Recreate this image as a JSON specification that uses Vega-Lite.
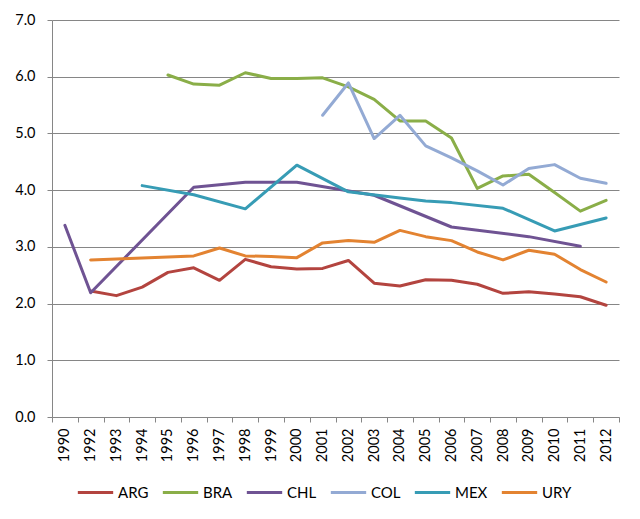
{
  "$schema": "https://vega.github.io/schema/vega-lite/v6.json",
  "autosize": {"type": "none"},
  "padding": {"left": 52, "top": 20, "right": 21, "bottom": 102},
  "width": 567,
  "height": 397,
  "background": "white",
  "config": {
    "font": "Lato",
    "view": {"stroke": null},
    "axis": {
      "labelFont": "Lato",
      "labelFontSize": 14.5,
      "labelColor": "#000000",
      "domainColor": "#868686",
      "tickColor": "#868686",
      "gridColor": "#868686",
      "tickSize": 5,
      "title": null
    }
  },
  "data": {
    "values": [
      {"year": "1992", "country": "ARG", "value": 2.22},
      {"year": "1993", "country": "ARG", "value": 2.14},
      {"year": "1994", "country": "ARG", "value": 2.29},
      {"year": "1995", "country": "ARG", "value": 2.55},
      {"year": "1996", "country": "ARG", "value": 2.63},
      {"year": "1997", "country": "ARG", "value": 2.41},
      {"year": "1998", "country": "ARG", "value": 2.78},
      {"year": "1999", "country": "ARG", "value": 2.65},
      {"year": "2000", "country": "ARG", "value": 2.61},
      {"year": "2001", "country": "ARG", "value": 2.62},
      {"year": "2002", "country": "ARG", "value": 2.76},
      {"year": "2003", "country": "ARG", "value": 2.36},
      {"year": "2004", "country": "ARG", "value": 2.31},
      {"year": "2005", "country": "ARG", "value": 2.42},
      {"year": "2006", "country": "ARG", "value": 2.41},
      {"year": "2007", "country": "ARG", "value": 2.34},
      {"year": "2008", "country": "ARG", "value": 2.18},
      {"year": "2009", "country": "ARG", "value": 2.21},
      {"year": "2010", "country": "ARG", "value": 2.17},
      {"year": "2011", "country": "ARG", "value": 2.12},
      {"year": "2012", "country": "ARG", "value": 1.97},

      {"year": "1995", "country": "BRA", "value": 6.03},
      {"year": "1996", "country": "BRA", "value": 5.87},
      {"year": "1997", "country": "BRA", "value": 5.85},
      {"year": "1998", "country": "BRA", "value": 6.07},
      {"year": "1999", "country": "BRA", "value": 5.97},
      {"year": "2000", "country": "BRA", "value": 5.97},
      {"year": "2001", "country": "BRA", "value": 5.98},
      {"year": "2002", "country": "BRA", "value": 5.82},
      {"year": "2003", "country": "BRA", "value": 5.6},
      {"year": "2004", "country": "BRA", "value": 5.22},
      {"year": "2005", "country": "BRA", "value": 5.22},
      {"year": "2006", "country": "BRA", "value": 4.92},
      {"year": "2007", "country": "BRA", "value": 4.03},
      {"year": "2008", "country": "BRA", "value": 4.25},
      {"year": "2009", "country": "BRA", "value": 4.28},
      {"year": "2010", "country": "BRA", "value": 3.96},
      {"year": "2011", "country": "BRA", "value": 3.63},
      {"year": "2012", "country": "BRA", "value": 3.82},

      {"year": "1990", "country": "CHL", "value": 3.38},
      {"year": "1992", "country": "CHL", "value": 2.19},
      {"year": "1996", "country": "CHL", "value": 4.05},
      {"year": "1998", "country": "CHL", "value": 4.14},
      {"year": "2000", "country": "CHL", "value": 4.14},
      {"year": "2003", "country": "CHL", "value": 3.91},
      {"year": "2006", "country": "CHL", "value": 3.35},
      {"year": "2009", "country": "CHL", "value": 3.18},
      {"year": "2011", "country": "CHL", "value": 3.01},

      {"year": "2001", "country": "COL", "value": 5.32},
      {"year": "2002", "country": "COL", "value": 5.89},
      {"year": "2003", "country": "COL", "value": 4.91},
      {"year": "2004", "country": "COL", "value": 5.32},
      {"year": "2005", "country": "COL", "value": 4.78},
      {"year": "2006", "country": "COL", "value": 4.57},
      {"year": "2007", "country": "COL", "value": 4.34},
      {"year": "2008", "country": "COL", "value": 4.09},
      {"year": "2009", "country": "COL", "value": 4.38},
      {"year": "2010", "country": "COL", "value": 4.45},
      {"year": "2011", "country": "COL", "value": 4.21},
      {"year": "2012", "country": "COL", "value": 4.12},

      {"year": "1994", "country": "MEX", "value": 4.08},
      {"year": "1996", "country": "MEX", "value": 3.92},
      {"year": "1998", "country": "MEX", "value": 3.67},
      {"year": "2000", "country": "MEX", "value": 4.44},
      {"year": "2002", "country": "MEX", "value": 3.97},
      {"year": "2004", "country": "MEX", "value": 3.86},
      {"year": "2005", "country": "MEX", "value": 3.81},
      {"year": "2006", "country": "MEX", "value": 3.78},
      {"year": "2008", "country": "MEX", "value": 3.68},
      {"year": "2010", "country": "MEX", "value": 3.28},
      {"year": "2012", "country": "MEX", "value": 3.51},

      {"year": "1992", "country": "URY", "value": 2.77},
      {"year": "1996", "country": "URY", "value": 2.84},
      {"year": "1997", "country": "URY", "value": 2.98},
      {"year": "1998", "country": "URY", "value": 2.84},
      {"year": "1999", "country": "URY", "value": 2.83},
      {"year": "2000", "country": "URY", "value": 2.81},
      {"year": "2001", "country": "URY", "value": 3.07},
      {"year": "2002", "country": "URY", "value": 3.11},
      {"year": "2003", "country": "URY", "value": 3.08},
      {"year": "2004", "country": "URY", "value": 3.29},
      {"year": "2005", "country": "URY", "value": 3.18},
      {"year": "2006", "country": "URY", "value": 3.11},
      {"year": "2007", "country": "URY", "value": 2.91},
      {"year": "2008", "country": "URY", "value": 2.77},
      {"year": "2009", "country": "URY", "value": 2.94},
      {"year": "2010", "country": "URY", "value": 2.87},
      {"year": "2011", "country": "URY", "value": 2.6},
      {"year": "2012", "country": "URY", "value": 2.38}
    ]
  },
  "mark": {"type": "line", "strokeWidth": 3, "strokeCap": "round", "strokeJoin": "round"},
  "encoding": {
    "x": {
      "field": "year",
      "type": "ordinal",
      "scale": {
        "type": "band",
        "paddingInner": 0,
        "paddingOuter": 0,
        "domain": ["1990", "1992", "1993", "1994", "1995", "1996", "1997", "1998", "1999", "2000", "2001", "2002", "2003", "2004", "2005", "2006", "2007", "2008", "2009", "2010", "2011", "2012"]
      },
      "axis": {
        "labelAngle": -90,
        "labelPadding": 6,
        "tickBand": "extent",
        "grid": false
      }
    },
    "y": {
      "field": "value",
      "type": "quantitative",
      "scale": {"domain": [0, 7], "nice": false},
      "axis": {
        "values": [0, 1, 2, 3, 4, 5, 6, 7],
        "format": ".1f",
        "grid": true,
        "labelPadding": 12
      }
    },
    "color": {
      "field": "country",
      "type": "nominal",
      "scale": {
        "domain": ["ARG", "BRA", "CHL", "COL", "MEX", "URY"],
        "range": ["#B3443F", "#8AAE48", "#6F5393", "#93AAD4", "#379CB5", "#E38331"]
      },
      "legend": {
        "title": null,
        "orient": "none",
        "legendX": 24,
        "legendY": 453,
        "direction": "horizontal",
        "gridAlign": "none",
        "symbolType": "stroke",
        "symbolSize": 1250,
        "symbolStrokeWidth": 3,
        "labelFont": "Lato",
        "labelFontSize": 15,
        "labelColor": "#000000",
        "labelOffset": 3,
        "columnPadding": 7
      }
    }
  }
}
